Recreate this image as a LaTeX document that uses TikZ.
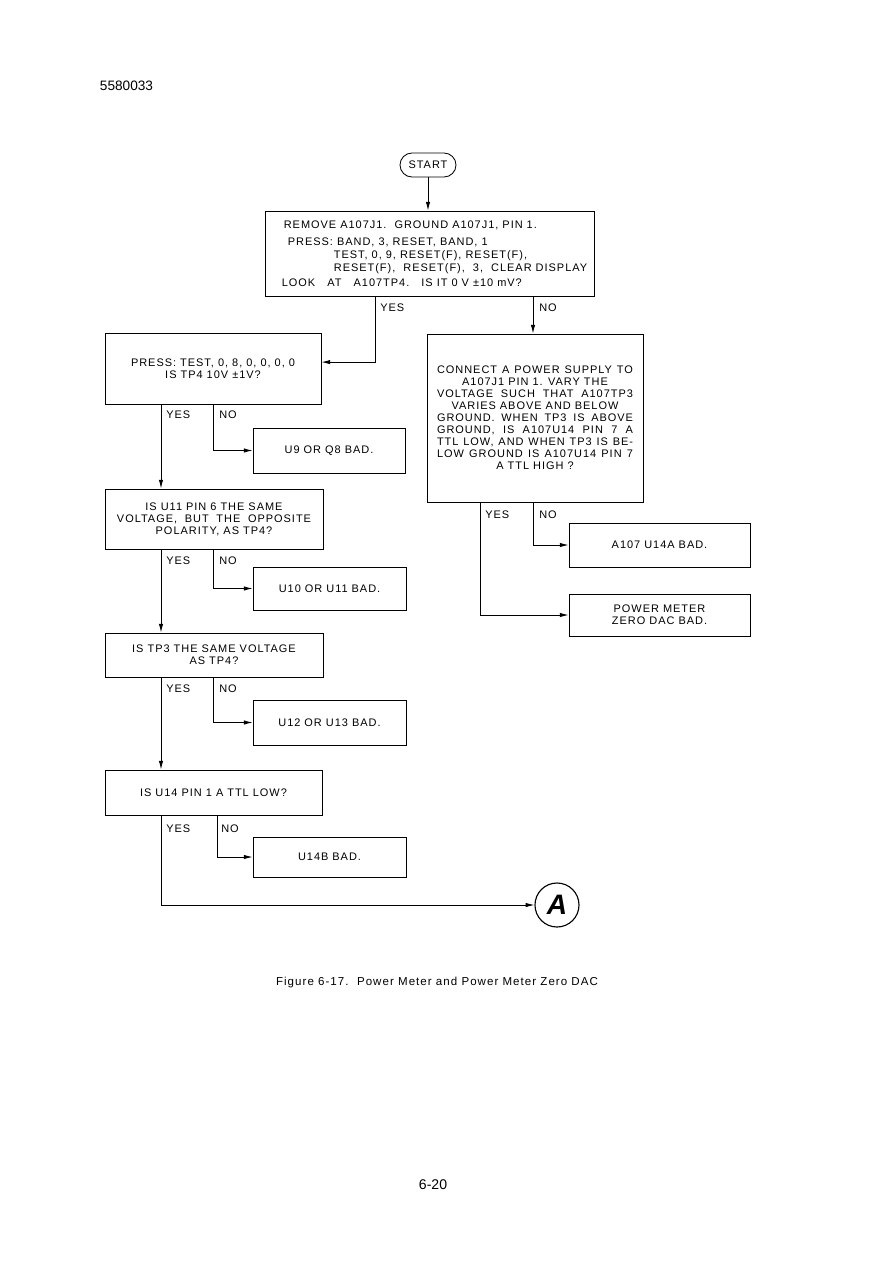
\documentclass[tikz,border=0pt]{standalone}
\usepackage{fontspec}
\setmainfont{Liberation Sans}[LetterSpace=9]
\newfontfamily\plainfont{Liberation Sans}
\usetikzlibrary{arrows.meta,calc,positioning}
\newcommand\jline[2][49mm]{\makebox[#1][s]{#2}}

\begin{document}
\begin{tikzpicture}[
  x=0.25mm,y=-0.25mm,>=Latex,
  font=\fontsize{7.8}{8.54}\selectfont,
  edge/.style={-{Latex[length=2.2mm,width=1.1mm]},line width=0.6pt},
  box/.style={draw,line width=0.6pt,inner sep=0pt,align=center},
  dims/.style 2 args={minimum width=#1*0.25mm,minimum height=#2*0.25mm},
  term/.style={draw,line width=0.6pt,rounded corners=3mm,inner sep=0pt,minimum width=14mm,minimum height=6mm},
  conn/.style={draw,circle,line width=0.8pt,inner sep=0pt,minimum size=11mm,font=\plainfont\fontsize{20}{20}\selectfont\bfseries\itshape},
  lbl/.style={inner sep=0pt,anchor=north west},
  note/.style={font=\fontsize{8.2}{9}\selectfont}
]
\useasboundingbox (0,0) rectangle (873,1263);

\node[font=\plainfont\fontsize{9.7}{10}\selectfont] (docno) at (126.5,86) {5580033};

% Start and first check.
\node[term] (start) at (428,165) {START};
\node[box,dims={329}{85},align=left] (b1) at (429.5,253.5) {%
  \hspace*{3mm}REMOVE A107J1.\ \ GROUND A107J1, PIN 1.\\[4pt]
  \hspace*{4mm}PRESS:\ BAND, 3, RESET, BAND, 1\\[0.5pt]
  \hspace*{15.5mm}TEST,\ 0,\ 9, RESET(F), RESET(F),\\[0.5pt]
  \hspace*{15.5mm}RESET(F),\ \ RESET(F),\ \ 3,\ \ CLEAR DISPLAY\\[2pt]
  \hspace*{2.5mm}LOOK\ \ \ AT\ \ \ A107TP4.\ \ \ IS IT 0 V ±10 mV?};

\coordinate (ty) at (375,0);
\coordinate (ly) at (161,0);
\coordinate (ln) at (213,0);
\coordinate (ln4) at (217,0);
\coordinate (ry) at (480,0);
\coordinate (rn) at (533,0);

% Left column.
\node[box,dims={216}{71}] (b2) at (213,368.5) {PRESS: TEST, 0, 8, 0, 0, 0, 0\\IS TP4 10V ±1V?};
\node[box,dims={152}{45}] (b5) at (329,450.5) {U9 OR Q8 BAD.};
\node[box,dims={218}{60}] (b4) at (214,519) {IS U11 PIN 6 THE SAME\\\jline[48.5mm]{VOLTAGE,\ BUT THE OPPOSITE}\\POLARITY, AS TP4?};
\node[box,dims={153}{43}] (b6) at (329.5,588.5) {U10 OR U11 BAD.};
\node[box,dims={218}{44}] (b8) at (214,655) {IS TP3 THE SAME VOLTAGE\\AS TP4?};
\node[box,dims={153}{45}] (b9) at (329.5,722.5) {U12 OR U13 BAD.};
\node[box,dims={217}{45}] (b10) at (213.5,792.5) {IS U14 PIN 1 A TTL LOW?};
\node[box,dims={153}{40}] (b11) at (329.5,857) {U14B BAD.};
\node[conn] (cA) at (557,905) {A};

% Right column.
\node[box,dims={216}{168}] (b3) at (535,418) {%
  \jline{CONNECT A POWER SUPPLY TO}\\
  A107J1 PIN 1. VARY THE\\
  \jline{VOLTAGE SUCH THAT A107TP3}\\
  VARIES ABOVE AND BELOW\\
  \jline{GROUND. WHEN TP3 IS ABOVE}\\
  \jline{GROUND, IS A107U14 PIN 7 A}\\
  \jline{TTL LOW, AND WHEN TP3 IS BE-}\\
  \jline{LOW GROUND IS A107U14 PIN 7}\\
  A TTL HIGH ?};
\node[box,dims={181}{44}] (c6) at (659.5,545) {A107 U14A BAD.};
\node[box,dims={181}{42}] (c7) at (659.5,615) {POWER METER\\ZERO DAC BAD.};

% Connectors.
\draw[edge] (start.south) -- (start.south |- b1.north);
\draw[edge] (b1.south -| ty) |- ([yshift=1.6mm]b2.east);
\draw[edge] (b1.south -| rn) -- (b3.north -| rn);
\draw[edge] (b2.south -| ly) -- (b4.north -| ly);
\draw[edge] (b2.south -| ln) |- (b5.west);
\draw[edge] (b4.south -| ly) -- (b8.north -| ly);
\draw[edge] (b4.south -| ln) |- (b6.west);
\draw[edge] (b8.south -| ly) -- (b10.north -| ly);
\draw[edge] (b8.south -| ln) |- (b9.west);
\draw[edge] (b10.south -| ly) |- (cA.west);
\draw[edge] (b10.south -| ln4) |- (b11.west);
\draw[edge] (b3.south -| rn) |- (c6.west);
\draw[edge] (b3.south -| ry) |- (c7.west);

% Branch labels.
\node[lbl] (y1) at ($(b1.south -| ty)+(5,7)$) {YES};
\node[lbl] (n1) at ($(b1.south -| rn)+(6,7)$) {NO};
\node[lbl] (y2) at ($(b2.south -| ly)+(5,6)$) {YES};
\node[lbl] (n2) at ($(b2.south -| ln)+(6,6)$) {NO};
\node[lbl] (y4) at ($(b4.south -| ly)+(5,7)$) {YES};
\node[lbl] (n4) at ($(b4.south -| ln)+(6,7)$) {NO};
\node[lbl] (y8) at ($(b8.south -| ly)+(5,7)$) {YES};
\node[lbl] (n8) at ($(b8.south -| ln)+(6,7)$) {NO};
\node[lbl] (y10) at ($(b10.south -| ly)+(5,9)$) {YES};
\node[lbl] (n10) at ($(b10.south -| ln4)+(4,9)$) {NO};
\node[lbl] (y3) at ($(b3.south -| ry)+(5,8)$) {YES};
\node[lbl] (n3) at ($(b3.south -| rn)+(6,8)$) {NO};

% Caption.
\node[note] (cap) at (437,983) {Figure 6-17.\ \ Power Meter and Power Meter Zero DAC};
\node[font=\plainfont\fontsize{10}{10}\selectfont] (pg) at (433,1185) {6-20};
\end{tikzpicture}
\end{document}
